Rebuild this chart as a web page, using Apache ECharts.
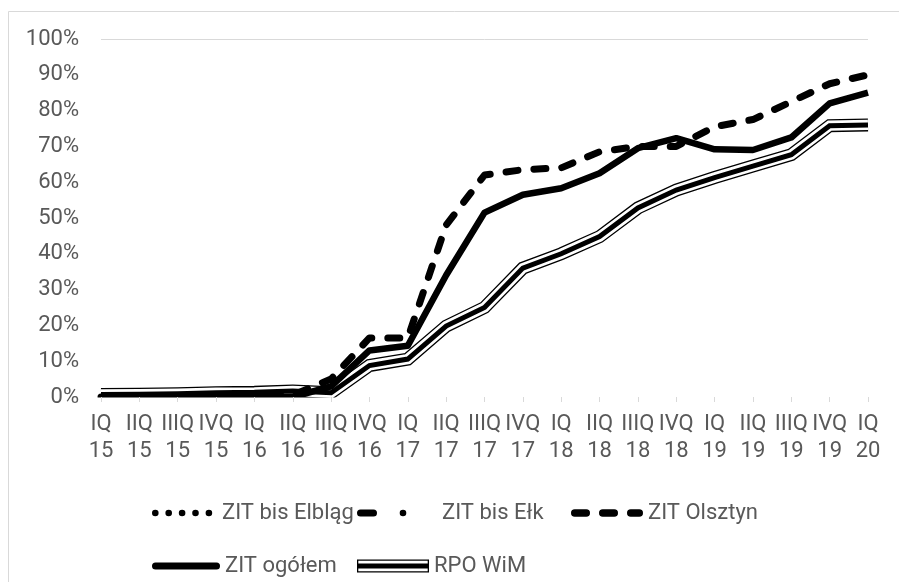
<!DOCTYPE html>
<html>
<head>
<meta charset="utf-8">
<script src="https://cdn.jsdelivr.net/npm/echarts@6/dist/echarts.min.js"></script>
<style>
  html, body { margin: 0; padding: 0; background: #fff; }
  #chart { width: 899px; height: 582px; }
</style>
</head>
<body>
<div id="chart"></div>
<script>
// Quarter labels (quarter + two-digit year)
const categories = ['IQ 15','IIQ 15','IIIQ 15','IVQ 15','IQ 16','IIQ 16','IIIQ 16','IVQ 16',
  'IQ 17','IIQ 17','IIIQ 17','IVQ 17','IQ 18','IIQ 18','IIIQ 18','IVQ 18',
  'IQ 19','IIQ 19','IIIQ 19','IVQ 19','IQ 20'];

// Progress, % of allocation
const zitElblag = categories.map(() => null);   // no values plotted
const zitElk = categories.map(() => null);      // no values plotted
const zitOlsztyn = [0, 0, 0, 0, 0, 0.5, 5, 16.5, 16.5, 48, 62, 63.5, 64, 68.5, 70, 70, 75.5, 77.5, 82.5, 87.5, 90];
const zitOgolem = [0, 0, 0, 0, 0, 0, 3, 13, 14.3, 34, 51.5, 56.5, 58.3, 62.5, 69.5, 72.3, 69.2, 69, 72.5, 82, 85];
const rpoWim = [0.7, 0.8, 0.9, 1.2, 1.3, 1.7, 1.2, 8.8, 10.6, 19.8, 25, 36, 40, 44.8, 52.8, 57.8, 61.3, 64.5, 67.7, 75.8, 76];

const yTicks = [0, 10, 20, 30, 40, 50, 60, 70, 80, 90, 100];

const FONT = 'Roboto';
const TEXT = '#595959';
const GRID = '#d9d9d9';

// Plot box in pixels
const PLOT = { left: 101, right: 31, top: 39, bottom: 185 };

// Legend glyphs as paths; leading moves fix the glyph box to W x H
function box(w, h) { return 'M0 0 M' + w + ' ' + h + ' '; }
function dot(cx, cy, r) {
  return 'M' + (cx - r) + ' ' + cy + ' A' + r + ' ' + r + ' 0 1 0 ' + (cx + r) + ' ' + cy +
         ' A' + r + ' ' + r + ' 0 1 0 ' + (cx - r) + ' ' + cy + ' Z ';
}
function capsule(x1, x2, cy, h) {
  const r = h / 2;
  return 'M' + (x1 + r) + ' ' + (cy - r) + ' H' + (x2 - r) + ' A' + r + ' ' + r + ' 0 0 1 ' + (x2 - r) + ' ' + (cy + r) +
         ' H' + (x1 + r) + ' A' + r + ' ' + r + ' 0 0 1 ' + (x1 + r) + ' ' + (cy - r) + ' Z ';
}
const H = 22, CY = 11;
const iconElblag = 'path://' + box(65, H) + [0, 1, 2, 3, 4].map(i => dot(3.3 + i * 13.4, CY, 3.3)).join('');
const iconElk = 'path://' + box(80, H) + capsule(0, 20, CY, 7) + dot(46, CY, 3.3);
const iconOlsztyn = 'path://' + box(72, H) + capsule(0, 19, CY, 7.5) + capsule(28, 47, CY, 7.5) + capsule(56, 72, CY, 7.5);
const iconOgolem = 'path://' + box(68, H) + capsule(0, 68, CY, 7);
const iconRpo = 'path://' + box(72, H) +
  'M0 4.5 H72 V17.5 H0 Z ' +          // outer black band
  'M1.3 5.8 V8.5 H70.7 V5.8 Z ' +     // upper white stripe (hole)
  'M1.3 13.5 V16.2 H70.7 V13.5 Z ';   // lower white stripe (hole)

function legendItem(name, icon, left, top, w) {
  return {
    data: [{ name: name, icon: icon }],
    left: left, top: top, padding: 0,
    itemWidth: w, itemHeight: H,
    selectedMode: false,
    itemStyle: { borderWidth: 0, color: '#000' },
    textStyle: { fontFamily: FONT, fontSize: 22, color: TEXT, lineHeight: 22 }
  };
}

const chart = echarts.init(document.getElementById('chart'), null, { renderer: 'canvas' });
const W = 899, HT = 582;
const baseY = HT - PLOT.bottom;

chart.setOption({
  animation: false,
  backgroundColor: '#fff',
  color: ['#000'],
  graphic: [
    { // outer frame of the chart area
      type: 'rect', silent: true, z: -10,
      shape: { x: 8.5, y: 11.5, width: 1000, height: 1000 },
      style: { fill: 'none', stroke: GRID, lineWidth: 1 }
    },
    { // trims thick strokes at the bottom edge of the plot
      type: 'rect', silent: true, z: 50,
      shape: { x: PLOT.left - 10, y: baseY + 0.5, width: W - PLOT.left - PLOT.right + 20, height: 8 },
      style: { fill: '#fff' }
    }
  ],
  grid: PLOT,
  legend: [
    legendItem('ZIT bis Elbląg', iconElblag, 152, 502, 65),
    legendItem('ZIT bis Ełk', iconElk, 357, 502, 80),
    legendItem('ZIT Olsztyn', iconOlsztyn, 571, 502, 72),
    legendItem('ZIT ogółem', iconOgolem, 152, 555, 68),
    legendItem('RPO WiM', iconRpo, 357, 555, 72)
  ],
  xAxis: {
    type: 'category',
    z: 60,
    data: categories,
    boundaryGap: false,
    axisLine: { show: false },
    axisTick: { show: true, length: 5, lineStyle: { color: GRID } },
    axisLabel: {
      interval: 0, margin: 14,
      fontFamily: FONT, fontSize: 22, color: TEXT, lineHeight: 27,
      formatter: v => v.replace(' ', '\n')
    },
    splitLine: { show: false }
  },
  yAxis: {
    type: 'value',
    min: yTicks[0], max: yTicks[yTicks.length - 1], interval: 10,
    axisLine: { show: false },
    axisTick: { show: false },
    axisLabel: { margin: 22, fontFamily: FONT, fontSize: 22, color: TEXT, formatter: '{value}%' },
    splitLine: {
      show: true,
      lineStyle: { color: yTicks.map(t => t === 100 ? GRID : 'rgba(0,0,0,0)'), width: 1 }
    }
  },
  series: [
    // RPO WiM: triple line built from three stacked strokes
    { name: 'RPO WiM', type: 'line', data: rpoWim, symbol: 'none', z: 2, silent: true,
      lineStyle: { color: '#000', width: 13, join: 'miter' } },
    { name: 'RPO WiM', type: 'line', data: rpoWim, symbol: 'none', z: 2, silent: true,
      lineStyle: { color: '#fff', width: 10.4, join: 'miter' } },
    { name: 'RPO WiM', type: 'line', data: rpoWim, symbol: 'none', z: 2, silent: true,
      lineStyle: { color: '#000', width: 5, join: 'miter' } },
    { name: 'ZIT bis Elbląg', type: 'line', data: zitElblag, symbol: 'none', z: 3,
      lineStyle: { color: '#000', width: 6.5, type: [0.1, 13.3], cap: 'round' } },
    { name: 'ZIT bis Ełk', type: 'line', data: zitElk, symbol: 'none', z: 3,
      lineStyle: { color: '#000', width: 6.5, type: [20, 20, 0.1, 20], cap: 'round' } },
    { name: 'ZIT ogółem', type: 'line', data: zitOgolem, symbol: 'none', z: 4,
      lineStyle: { color: '#000', width: 6.5, join: 'round' } },
    { name: 'ZIT Olsztyn', type: 'line', data: zitOlsztyn, symbol: 'none', z: 5,
      lineStyle: { color: '#000', width: 7, type: [12, 16], cap: 'round', join: 'round' } }
  ]
});
</script>
</body>
</html>
